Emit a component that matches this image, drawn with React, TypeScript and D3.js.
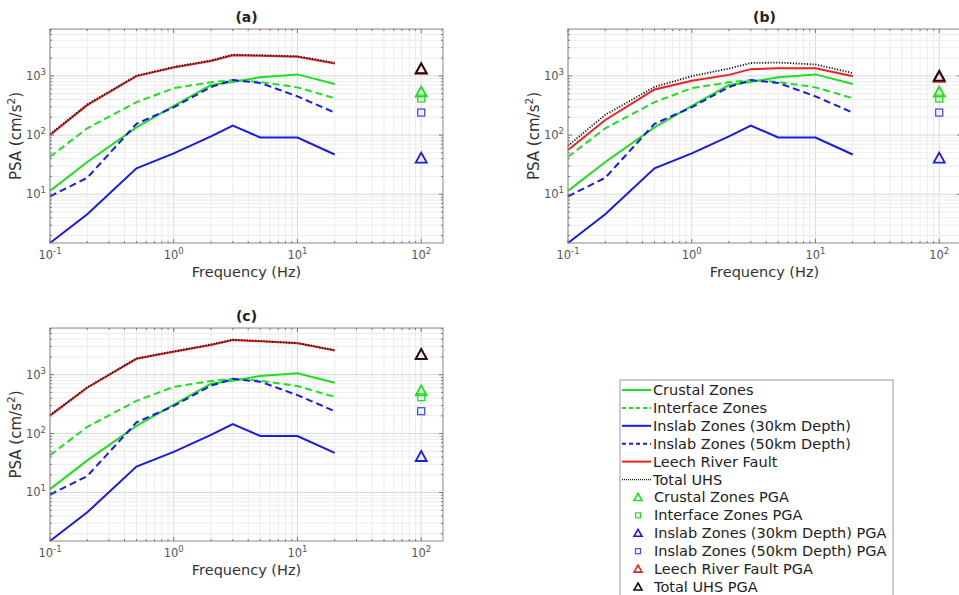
import React from 'react';
import * as d3 from 'd3';

// spectral frequencies (Hz)
const freqs = [0.1, 0.2, 0.5, 1, 2, 3, 5, 10, 20];

// source-zone UHS (same in all three panels), cm/s^2
const crustal = [11.4, 35, 135, 310, 700, 790, 950, 1060, 730];
const interfaceZ = [43, 130, 360, 620, 780, 850, 790, 640, 420];
const inslab30 = [1.5, 4.6, 27.5, 49, 95, 145, 91, 91, 47];
const inslab50 = [9.2, 19, 155, 295, 650, 850, 760, 450, 240];

// Leech River Fault and total UHS per panel
const leechA = [100, 320, 990, 1390, 1780, 2230, 2180, 2100, 1620];
const totalA = [103, 330, 1010, 1420, 1830, 2290, 2240, 2150, 1670];
const leechB = [56, 180, 590, 830, 1040, 1300, 1340, 1340, 990];
const totalB = [66, 220, 650, 990, 1330, 1650, 1680, 1560, 1120];
const leechC = [202, 600, 1860, 2460, 3200, 3880, 3680, 3400, 2570];
const totalC = [206, 612, 1890, 2500, 3260, 3950, 3740, 3460, 2620];

// PGA (plotted at 100 Hz)
const pgaFreq = 100;
const pgaCrustal = 520;
const pgaInterface = 415;
const pgaInslab30 = 40;
const pgaInslab50 = 240;
const pgaLeech = [1270, 930, 2150];
const pgaTotal = [1300, 975, 2170];

const GREEN = '#1ee01e';
const BLUE = '#1a1ae6';
const RED = '#ee2020';
const FONT = 'DejaVu Sans, sans-serif';

const isMajor = (d: number) => Math.abs(Math.log10(d) - Math.round(Math.log10(d))) < 1e-6;

const Pow = ({ x, y, e, anchor }: { x: number; y: number; e: number; anchor: string }) => (
  <text x={x} y={y} textAnchor={anchor} fontSize={11.5} fill="#555" fontFamily={FONT}>
    10<tspan dy={-5} fontSize={8.5}>{e}</tspan>
  </text>
);

const Triangle = ({ cx, cy, color, fill = 'none' }: any) => (
  <path d={`M${cx},${cy - 6} L${cx + 5.5},${cy + 4} L${cx - 5.5},${cy + 4} Z`} fill={fill} stroke={color} strokeWidth={1.8} />
);
const Square = ({ cx, cy, color }: any) => (
  <rect x={cx - 3.5} y={cy - 3.5} width={7} height={7} fill="none" stroke={color} strokeWidth={1.3} />
);

const Panel = ({ left, top, width, height, title, leech, total, idx }: any) => {
  const x = d3.scaleLog().domain([0.1, 150]).range([left, left + width]);
  const y = d3.scaleLog().domain([1.5, 6200]).range([top + height, top]);
  const line = d3.line<number>().x((_, i) => x(freqs[i])).y(d => y(d));
  const xt = x.ticks();
  const yt = y.ticks();
  const series = [
    { v: interfaceZ, c: GREEN, dash: '7 4' },
    { v: crustal, c: GREEN, dash: null },
    { v: inslab50, c: BLUE, dash: '7 4' },
    { v: inslab30, c: BLUE, dash: null },
    { v: leech, c: RED, dash: null },
  ];
  const px = x(pgaFreq);
  return (
    <g>
      <rect x={left} y={top} width={width} height={height} fill="#fff" />
      {xt.map((d, i) => (
        <line key={'gx' + i} x1={x(d)} x2={x(d)} y1={top} y2={top + height}
          stroke={isMajor(d) ? '#d8d8d8' : '#ececec'} strokeWidth={1} />
      ))}
      {yt.map((d, i) => (
        <line key={'gy' + i} x1={left} x2={left + width} y1={y(d)} y2={y(d)}
          stroke={isMajor(d) ? '#d8d8d8' : '#ececec'} strokeWidth={1} />
      ))}
      {series.map((s, i) => (
        <path key={'s' + i} d={line(s.v) as string} fill="none" stroke={s.c} strokeWidth={2}
          strokeDasharray={s.dash || undefined} />
      ))}
      <path d={line(total) as string} fill="none" stroke="#111" strokeWidth={1.8} strokeDasharray="1.2 1.6" />
      <Triangle cx={px} cy={y(pgaCrustal)} color={GREEN} />
      <Square cx={px} cy={y(pgaInterface)} color={GREEN} />
      <Triangle cx={px} cy={y(pgaInslab30)} color={BLUE} />
      <Square cx={px} cy={y(pgaInslab50)} color="#4a4ae6" />
      <Triangle cx={px} cy={y(pgaLeech[idx])} color={RED} />
      <Triangle cx={px} cy={y(pgaTotal[idx])} color="#111" />
      <rect x={left} y={top} width={width} height={height} fill="none" stroke="#8a8a8a" strokeWidth={1} />
      {xt.map((d, i) => {
        const len = isMajor(d) ? 4 : 2;
        return (
          <g key={'tx' + i}>
            <line x1={x(d)} x2={x(d)} y1={top + height} y2={top + height - len} stroke="#777" />
            <line x1={x(d)} x2={x(d)} y1={top} y2={top + len} stroke="#777" />
          </g>
        );
      })}
      {yt.map((d, i) => {
        const len = isMajor(d) ? 4 : 2;
        return (
          <g key={'ty' + i}>
            <line x1={left} x2={left + len} y1={y(d)} y2={y(d)} stroke="#777" />
            <line x1={left + width} x2={left + width - len} y1={y(d)} y2={y(d)} stroke="#777" />
          </g>
        );
      })}
      {xt.filter(isMajor).map((d, i) => (
        <Pow key={'lx' + i} x={x(d)} y={top + height + 16} e={Math.round(Math.log10(d))} anchor="middle" />
      ))}
      {yt.filter(isMajor).map((d, i) => (
        <Pow key={'ly' + i} x={left - 4} y={y(d) + 4} e={Math.round(Math.log10(d))} anchor="end" />
      ))}
      <text x={left + width / 2} y={top - 7} textAnchor="middle" fontSize={14} fontWeight="bold" fontFamily={FONT} fill="#222">{title}</text>
      <text x={left + width / 2} y={top + height + 34} textAnchor="middle" fontSize={14.5} fontFamily={FONT} fill="#333">Frequency (Hz)</text>
      <text transform={`translate(${left - 29},${top + height / 2}) rotate(-90)`} textAnchor="middle" fontSize={15} fontFamily={FONT} fill="#333">
        PSA (cm/s<tspan dy={-6} fontSize={10.5}>2</tspan><tspan dy={6}>)</tspan>
      </text>
    </g>
  );
};

const legendItems = [
  { label: 'Crustal Zones', kind: 'line', c: GREEN, dash: null },
  { label: 'Interface Zones', kind: 'line', c: GREEN, dash: '4 3' },
  { label: 'Inslab Zones (30km Depth)', kind: 'line', c: BLUE, dash: null },
  { label: 'Inslab Zones (50km Depth)', kind: 'line', c: BLUE, dash: '4 3' },
  { label: 'Leech River Fault', kind: 'line', c: RED, dash: null },
  { label: 'Total UHS', kind: 'dot', c: '#111', dash: '1 1' },
  { label: 'Crustal Zones PGA', kind: 'tri', c: GREEN },
  { label: 'Interface Zones PGA', kind: 'sq', c: GREEN },
  { label: 'Inslab Zones (30km Depth) PGA', kind: 'tri', c: BLUE },
  { label: 'Inslab Zones (50km Depth) PGA', kind: 'sq', c: '#4a4ae6' },
  { label: 'Leech River Fault PGA', kind: 'tri', c: RED },
  { label: 'Total UHS PGA', kind: 'tri', c: '#111' },
];

const Legend = () => {
  const rowY = d3.scaleLinear().domain([0, 11]).range([390, 587]);
  return (
    <g>
      <rect x={620} y={380} width={273} height={240} fill="#fff" stroke="#9a9a9a" />
      {legendItems.map((it: any, i) => {
        const cy = rowY(i);
        return (
          <g key={i}>
            {it.kind === 'line' && (
              <line x1={622} x2={651} y1={cy} y2={cy} stroke={it.c} strokeWidth={2} strokeDasharray={it.dash || undefined} />
            )}
            {it.kind === 'dot' && (
              <line x1={622} x2={651} y1={cy} y2={cy} stroke={it.c} strokeWidth={1.2} strokeDasharray="1 1" />
            )}
            {it.kind === 'tri' && (
              <path d={`M638,${cy - 4} L642,${cy + 3} L634,${cy + 3} Z`} fill="none" stroke={it.c} strokeWidth={1.6} />
            )}
            {it.kind === 'sq' && (
              <rect x={635.5} y={cy - 2.5} width={5} height={5} fill="none" stroke={it.c} strokeWidth={1.2} />
            )}
            <text x={it.kind === 'line' || it.kind === 'dot' ? 653 : 654} y={cy + 5} fontSize={14.5} fontFamily={FONT} fill="#222">{it.label}</text>
          </g>
        );
      })}
    </g>
  );
};

export default function App() {
  return (
    <svg width={959} height={595} style={{ position: 'absolute', left: 0, top: 0, background: '#fff' }}>
      <rect width={959} height={595} fill="#fff" />
      <Panel left={50} top={29} width={393} height={214} title="(a)" leech={leechA} total={totalA} idx={0} />
      <Panel left={568} top={29} width={393} height={214} title="(b)" leech={leechB} total={totalB} idx={1} />
      <Panel left={50} top={328} width={393} height={213} title="(c)" leech={leechC} total={totalC} idx={2} />
      <Legend />
    </svg>
  );
}
